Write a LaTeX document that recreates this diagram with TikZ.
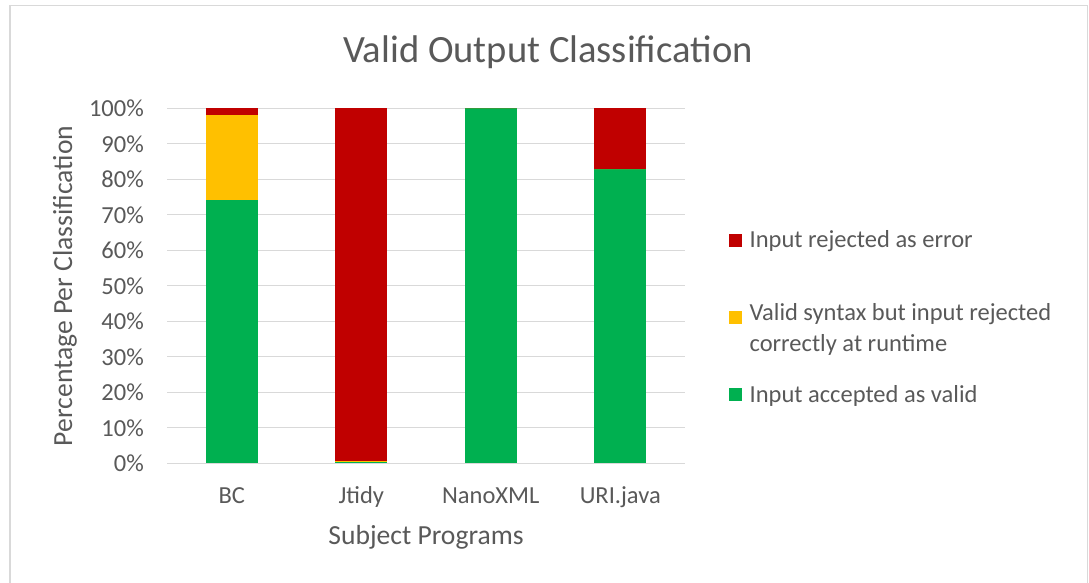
\documentclass[tikz,border=0pt]{standalone}
\usepackage{fontspec}
\setmainfont{Carlito}
\usepackage{xcolor}
\usepackage{tikz}
\usetikzlibrary{positioning, calc}

\definecolor{errred}{HTML}{C00000}
\definecolor{synyellow}{HTML}{FFC000}
\definecolor{okgreen}{HTML}{00B050}
\definecolor{txtgray}{HTML}{595959}
\definecolor{gridgray}{HTML}{D9D9D9}

\begin{document}
\begin{tikzpicture}[x=1pt, y=-1pt, text=txtgray,
    ticklbl/.style={font=\fontsize{24.5}{29}\selectfont, inner sep=0pt},
    axislbl/.style={font=\fontsize{27.6}{32}\selectfont, inner sep=0pt},
    legbox/.style={minimum size=13pt, inner sep=0pt, anchor=west}]
    \useasboundingbox (0,0) rectangle (1089,583);
    % 外框
    \draw[gridgray, line width=1.5] (10,590) -- (10,5.5) -- (1087.5,5.5) -- (1087.5,590);

    % 标题
    \node[font=\fontsize{38.6}{44}\selectfont, inner sep=0pt] (title) at (548,52) {Valid Output Classification};

    % 绘图区 (x 单位 px, y 单位 %)
    \begin{scope}[shift={(167,463.3)}, x=1pt, y=3.55pt]
        % 网格线与刻度
        \foreach \p in {0,10,...,100} {
            \draw[gridgray, line width=1.3] (0,\p) -- (518,\p);
            \node[ticklbl, anchor=east] (tick\p) at (-23,\p) {\p\%};
        }
        % 堆叠柱
        \foreach \i/\lbl/\g/\s in {0/BC/74.1/98, 1/Jtidy/0.5/0.7, 2/NanoXML/100/100, 3/URI.java/83/83} {
            \pgfmathsetmacro\c{64.75+129.5*\i}
            \fill[okgreen] (\c-25.85,0) rectangle (\c+25.85,\g);
            \fill[synyellow] (\c-25.85,\g) rectangle (\c+25.85,\s);
            \fill[errred] (\c-25.85,\s) rectangle (\c+25.85,100);
            \node[ticklbl, anchor=base] (cat\i) at (\c,-11.4) {\lbl};
        }
    \end{scope}

    % 坐标轴标题
    \node[axislbl] (xtitle) at (426,537) {Subject Programs};
    \node[axislbl, rotate=90] (ytitle) at (65,286) {Percentage Per Classification};

    % 图例
    \node[legbox, fill=errred] (legerr) at (729,240) {};
    \node[ticklbl, anchor=west, right=7pt of legerr, yshift=-1.5pt] (txterr) {Input rejected as error};
    \node[legbox, fill=synyellow] (legsyn) at (729,317) {};
    \node[ticklbl, anchor=north west, align=left, font=\fontsize{24.5}{31}\selectfont]
        (txtsyn) at ($(legsyn.east)+(7,-13.5)$) {Valid syntax but input rejected\\correctly at runtime};
    \node[legbox, fill=okgreen] (legok) at (729,394) {};
    \node[ticklbl, anchor=west, right=7pt of legok, yshift=-1.5pt] (txtok) {Input accepted as valid};
\end{tikzpicture}
\end{document}
